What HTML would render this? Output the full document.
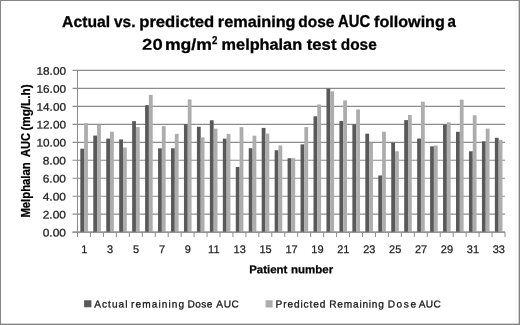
<!DOCTYPE html>
<html><head><meta charset="utf-8"><title>Chart</title>
<style>html,body{margin:0;padding:0;background:#fff}svg{display:block}text{font-family:"Liberation Sans",sans-serif}</style></head>
<body>
<svg width="520" height="325" viewBox="0 0 520 325">
<rect x="0" y="0" width="520" height="325" fill="#fff"/>
<rect x="0" y="0" width="520" height="1" fill="#868686"/>
<rect x="0" y="0" width="1" height="325" fill="#868686"/>
<rect x="518.6" y="0" width="1.4" height="325" fill="#868686"/>
<rect x="0" y="323.6" width="520" height="1.4" fill="#868686"/>
<rect x="515.5" y="1" width="1" height="322" fill="#f4f4f4"/>
<line x1="72.5" y1="232.15" x2="505.0" y2="232.15" stroke="#8c8c8c" stroke-width="1.15"/>
<line x1="72.5" y1="214.18" x2="505.0" y2="214.18" stroke="#8c8c8c" stroke-width="1.15"/>
<line x1="72.5" y1="196.21" x2="505.0" y2="196.21" stroke="#8c8c8c" stroke-width="1.15"/>
<line x1="72.5" y1="178.24" x2="505.0" y2="178.24" stroke="#8c8c8c" stroke-width="1.15"/>
<line x1="72.5" y1="160.27" x2="505.0" y2="160.27" stroke="#8c8c8c" stroke-width="1.15"/>
<line x1="72.5" y1="142.30" x2="505.0" y2="142.30" stroke="#8c8c8c" stroke-width="1.15"/>
<line x1="72.5" y1="124.33" x2="505.0" y2="124.33" stroke="#8c8c8c" stroke-width="1.15"/>
<line x1="72.5" y1="106.36" x2="505.0" y2="106.36" stroke="#8c8c8c" stroke-width="1.15"/>
<line x1="72.5" y1="88.39" x2="505.0" y2="88.39" stroke="#8c8c8c" stroke-width="1.15"/>
<line x1="72.5" y1="70.42" x2="505.0" y2="70.42" stroke="#8c8c8c" stroke-width="1.15"/>
<rect x="80.33" y="148.68" width="3.8" height="83.47" fill="#595959"/>
<rect x="84.13" y="122.98" width="3.8" height="109.17" fill="#ADADAD"/>
<rect x="93.28" y="135.56" width="3.8" height="96.59" fill="#595959"/>
<rect x="97.08" y="124.78" width="3.8" height="107.37" fill="#ADADAD"/>
<rect x="106.24" y="138.62" width="3.8" height="93.53" fill="#595959"/>
<rect x="110.04" y="131.70" width="3.8" height="100.45" fill="#ADADAD"/>
<rect x="119.19" y="139.42" width="3.8" height="92.73" fill="#595959"/>
<rect x="122.99" y="147.51" width="3.8" height="84.64" fill="#ADADAD"/>
<rect x="132.15" y="121.10" width="3.8" height="111.05" fill="#595959"/>
<rect x="135.95" y="127.03" width="3.8" height="105.12" fill="#ADADAD"/>
<rect x="145.10" y="105.19" width="3.8" height="126.96" fill="#595959"/>
<rect x="148.90" y="94.86" width="3.8" height="137.29" fill="#ADADAD"/>
<rect x="158.05" y="148.32" width="3.8" height="83.83" fill="#595959"/>
<rect x="161.85" y="126.13" width="3.8" height="106.02" fill="#ADADAD"/>
<rect x="171.01" y="148.32" width="3.8" height="83.83" fill="#595959"/>
<rect x="174.81" y="133.85" width="3.8" height="98.30" fill="#ADADAD"/>
<rect x="183.96" y="124.33" width="3.8" height="107.82" fill="#595959"/>
<rect x="187.76" y="99.44" width="3.8" height="132.71" fill="#ADADAD"/>
<rect x="196.92" y="126.76" width="3.8" height="105.39" fill="#595959"/>
<rect x="200.72" y="137.36" width="3.8" height="94.79" fill="#ADADAD"/>
<rect x="209.87" y="120.29" width="3.8" height="111.86" fill="#595959"/>
<rect x="213.67" y="128.64" width="3.8" height="103.51" fill="#ADADAD"/>
<rect x="222.83" y="138.62" width="3.8" height="93.53" fill="#595959"/>
<rect x="226.63" y="133.85" width="3.8" height="98.30" fill="#ADADAD"/>
<rect x="235.78" y="167.01" width="3.8" height="65.14" fill="#595959"/>
<rect x="239.58" y="127.12" width="3.8" height="105.03" fill="#ADADAD"/>
<rect x="248.74" y="148.23" width="3.8" height="83.92" fill="#595959"/>
<rect x="252.54" y="135.65" width="3.8" height="96.50" fill="#ADADAD"/>
<rect x="261.69" y="127.92" width="3.8" height="104.23" fill="#595959"/>
<rect x="265.49" y="133.58" width="3.8" height="98.57" fill="#ADADAD"/>
<rect x="274.65" y="150.21" width="3.8" height="81.94" fill="#595959"/>
<rect x="278.45" y="145.44" width="3.8" height="86.71" fill="#ADADAD"/>
<rect x="287.60" y="158.20" width="3.8" height="73.95" fill="#595959"/>
<rect x="291.40" y="158.20" width="3.8" height="73.95" fill="#ADADAD"/>
<rect x="300.55" y="144.37" width="3.8" height="87.78" fill="#595959"/>
<rect x="304.35" y="127.03" width="3.8" height="105.12" fill="#ADADAD"/>
<rect x="313.51" y="116.33" width="3.8" height="115.82" fill="#595959"/>
<rect x="317.31" y="104.47" width="3.8" height="127.68" fill="#ADADAD"/>
<rect x="326.46" y="88.66" width="3.8" height="143.49" fill="#595959"/>
<rect x="330.26" y="91.27" width="3.8" height="140.88" fill="#ADADAD"/>
<rect x="339.42" y="120.92" width="3.8" height="111.23" fill="#595959"/>
<rect x="343.22" y="100.43" width="3.8" height="131.72" fill="#ADADAD"/>
<rect x="352.37" y="124.33" width="3.8" height="107.82" fill="#595959"/>
<rect x="356.17" y="109.41" width="3.8" height="122.74" fill="#ADADAD"/>
<rect x="365.33" y="133.67" width="3.8" height="98.48" fill="#595959"/>
<rect x="369.13" y="142.75" width="3.8" height="89.40" fill="#ADADAD"/>
<rect x="378.28" y="175.45" width="3.8" height="56.70" fill="#595959"/>
<rect x="382.08" y="131.70" width="3.8" height="100.45" fill="#ADADAD"/>
<rect x="391.24" y="142.75" width="3.8" height="89.40" fill="#595959"/>
<rect x="395.04" y="151.28" width="3.8" height="80.87" fill="#ADADAD"/>
<rect x="404.19" y="120.11" width="3.8" height="112.04" fill="#595959"/>
<rect x="407.99" y="114.90" width="3.8" height="117.25" fill="#ADADAD"/>
<rect x="417.15" y="138.53" width="3.8" height="93.62" fill="#595959"/>
<rect x="420.95" y="101.69" width="3.8" height="130.46" fill="#ADADAD"/>
<rect x="430.10" y="146.34" width="3.8" height="85.81" fill="#595959"/>
<rect x="433.90" y="145.44" width="3.8" height="86.71" fill="#ADADAD"/>
<rect x="443.05" y="124.51" width="3.8" height="107.64" fill="#595959"/>
<rect x="446.85" y="122.26" width="3.8" height="109.89" fill="#ADADAD"/>
<rect x="456.01" y="131.79" width="3.8" height="100.36" fill="#595959"/>
<rect x="459.81" y="99.71" width="3.8" height="132.44" fill="#ADADAD"/>
<rect x="468.96" y="151.28" width="3.8" height="80.87" fill="#595959"/>
<rect x="472.76" y="115.26" width="3.8" height="116.89" fill="#ADADAD"/>
<rect x="481.92" y="141.31" width="3.8" height="90.84" fill="#595959"/>
<rect x="485.72" y="128.64" width="3.8" height="103.51" fill="#ADADAD"/>
<rect x="494.87" y="137.81" width="3.8" height="94.34" fill="#595959"/>
<rect x="498.67" y="139.78" width="3.8" height="92.37" fill="#ADADAD"/>
<line x1="77.5" y1="69.92" x2="77.5" y2="237.0" stroke="#8c8c8c" stroke-width="1"/>
<line x1="72.5" y1="232.15" x2="505.0" y2="232.15" stroke="#8c8c8c" stroke-width="1"/>
<line x1="90.45" y1="232.15" x2="90.45" y2="237.0" stroke="#8c8c8c" stroke-width="1"/>
<line x1="103.41" y1="232.15" x2="103.41" y2="237.0" stroke="#8c8c8c" stroke-width="1"/>
<line x1="116.36" y1="232.15" x2="116.36" y2="237.0" stroke="#8c8c8c" stroke-width="1"/>
<line x1="129.32" y1="232.15" x2="129.32" y2="237.0" stroke="#8c8c8c" stroke-width="1"/>
<line x1="142.27" y1="232.15" x2="142.27" y2="237.0" stroke="#8c8c8c" stroke-width="1"/>
<line x1="155.23" y1="232.15" x2="155.23" y2="237.0" stroke="#8c8c8c" stroke-width="1"/>
<line x1="168.18" y1="232.15" x2="168.18" y2="237.0" stroke="#8c8c8c" stroke-width="1"/>
<line x1="181.14" y1="232.15" x2="181.14" y2="237.0" stroke="#8c8c8c" stroke-width="1"/>
<line x1="194.09" y1="232.15" x2="194.09" y2="237.0" stroke="#8c8c8c" stroke-width="1"/>
<line x1="207.05" y1="232.15" x2="207.05" y2="237.0" stroke="#8c8c8c" stroke-width="1"/>
<line x1="220.00" y1="232.15" x2="220.00" y2="237.0" stroke="#8c8c8c" stroke-width="1"/>
<line x1="232.95" y1="232.15" x2="232.95" y2="237.0" stroke="#8c8c8c" stroke-width="1"/>
<line x1="245.91" y1="232.15" x2="245.91" y2="237.0" stroke="#8c8c8c" stroke-width="1"/>
<line x1="258.86" y1="232.15" x2="258.86" y2="237.0" stroke="#8c8c8c" stroke-width="1"/>
<line x1="271.82" y1="232.15" x2="271.82" y2="237.0" stroke="#8c8c8c" stroke-width="1"/>
<line x1="284.77" y1="232.15" x2="284.77" y2="237.0" stroke="#8c8c8c" stroke-width="1"/>
<line x1="297.73" y1="232.15" x2="297.73" y2="237.0" stroke="#8c8c8c" stroke-width="1"/>
<line x1="310.68" y1="232.15" x2="310.68" y2="237.0" stroke="#8c8c8c" stroke-width="1"/>
<line x1="323.64" y1="232.15" x2="323.64" y2="237.0" stroke="#8c8c8c" stroke-width="1"/>
<line x1="336.59" y1="232.15" x2="336.59" y2="237.0" stroke="#8c8c8c" stroke-width="1"/>
<line x1="349.55" y1="232.15" x2="349.55" y2="237.0" stroke="#8c8c8c" stroke-width="1"/>
<line x1="362.50" y1="232.15" x2="362.50" y2="237.0" stroke="#8c8c8c" stroke-width="1"/>
<line x1="375.45" y1="232.15" x2="375.45" y2="237.0" stroke="#8c8c8c" stroke-width="1"/>
<line x1="388.41" y1="232.15" x2="388.41" y2="237.0" stroke="#8c8c8c" stroke-width="1"/>
<line x1="401.36" y1="232.15" x2="401.36" y2="237.0" stroke="#8c8c8c" stroke-width="1"/>
<line x1="414.32" y1="232.15" x2="414.32" y2="237.0" stroke="#8c8c8c" stroke-width="1"/>
<line x1="427.27" y1="232.15" x2="427.27" y2="237.0" stroke="#8c8c8c" stroke-width="1"/>
<line x1="440.23" y1="232.15" x2="440.23" y2="237.0" stroke="#8c8c8c" stroke-width="1"/>
<line x1="453.18" y1="232.15" x2="453.18" y2="237.0" stroke="#8c8c8c" stroke-width="1"/>
<line x1="466.14" y1="232.15" x2="466.14" y2="237.0" stroke="#8c8c8c" stroke-width="1"/>
<line x1="479.09" y1="232.15" x2="479.09" y2="237.0" stroke="#8c8c8c" stroke-width="1"/>
<line x1="492.05" y1="232.15" x2="492.05" y2="237.0" stroke="#8c8c8c" stroke-width="1"/>
<line x1="505.00" y1="232.15" x2="505.00" y2="237.0" stroke="#8c8c8c" stroke-width="1"/>
<g transform="matrix(1 0.0005 0 1 0 0)">
<text x="66" y="236.41" font-size="11" text-anchor="end" fill="#222" stroke="#222" stroke-width="0.25" textLength="23.3" lengthAdjust="spacingAndGlyphs">0.00</text>
<text x="66" y="218.44" font-size="11" text-anchor="end" fill="#222" stroke="#222" stroke-width="0.25" textLength="23.3" lengthAdjust="spacingAndGlyphs">2.00</text>
<text x="66" y="200.47" font-size="11" text-anchor="end" fill="#222" stroke="#222" stroke-width="0.25" textLength="23.3" lengthAdjust="spacingAndGlyphs">4.00</text>
<text x="66" y="182.50" font-size="11" text-anchor="end" fill="#222" stroke="#222" stroke-width="0.25" textLength="23.3" lengthAdjust="spacingAndGlyphs">6.00</text>
<text x="66" y="164.53" font-size="11" text-anchor="end" fill="#222" stroke="#222" stroke-width="0.25" textLength="23.3" lengthAdjust="spacingAndGlyphs">8.00</text>
<text x="66" y="146.56" font-size="11" text-anchor="end" fill="#222" stroke="#222" stroke-width="0.25" textLength="29.5" lengthAdjust="spacingAndGlyphs">10.00</text>
<text x="66" y="128.59" font-size="11" text-anchor="end" fill="#222" stroke="#222" stroke-width="0.25" textLength="29.5" lengthAdjust="spacingAndGlyphs">12.00</text>
<text x="66" y="110.62" font-size="11" text-anchor="end" fill="#222" stroke="#222" stroke-width="0.25" textLength="29.5" lengthAdjust="spacingAndGlyphs">14.00</text>
<text x="66" y="92.65" font-size="11" text-anchor="end" fill="#222" stroke="#222" stroke-width="0.25" textLength="29.5" lengthAdjust="spacingAndGlyphs">16.00</text>
<text x="66" y="74.68" font-size="11" text-anchor="end" fill="#222" stroke="#222" stroke-width="0.25" textLength="29.5" lengthAdjust="spacingAndGlyphs">18.00</text>
<text x="84.28" y="252.86" font-size="11" text-anchor="middle" fill="#222" stroke="#222" stroke-width="0.25">1</text>
<text x="110.19" y="252.85" font-size="11" text-anchor="middle" fill="#222" stroke="#222" stroke-width="0.25">3</text>
<text x="136.10" y="252.83" font-size="11" text-anchor="middle" fill="#222" stroke="#222" stroke-width="0.25">5</text>
<text x="162.00" y="252.82" font-size="11" text-anchor="middle" fill="#222" stroke="#222" stroke-width="0.25">7</text>
<text x="187.91" y="252.81" font-size="11" text-anchor="middle" fill="#222" stroke="#222" stroke-width="0.25">9</text>
<text x="213.82" y="252.79" font-size="11" text-anchor="middle" fill="#222" stroke="#222" stroke-width="0.25">11</text>
<text x="239.73" y="252.78" font-size="11" text-anchor="middle" fill="#222" stroke="#222" stroke-width="0.25">13</text>
<text x="265.64" y="252.77" font-size="11" text-anchor="middle" fill="#222" stroke="#222" stroke-width="0.25">15</text>
<text x="291.55" y="252.75" font-size="11" text-anchor="middle" fill="#222" stroke="#222" stroke-width="0.25">17</text>
<text x="317.46" y="252.74" font-size="11" text-anchor="middle" fill="#222" stroke="#222" stroke-width="0.25">19</text>
<text x="343.37" y="252.73" font-size="11" text-anchor="middle" fill="#222" stroke="#222" stroke-width="0.25">21</text>
<text x="369.28" y="252.72" font-size="11" text-anchor="middle" fill="#222" stroke="#222" stroke-width="0.25">23</text>
<text x="395.19" y="252.70" font-size="11" text-anchor="middle" fill="#222" stroke="#222" stroke-width="0.25">25</text>
<text x="421.10" y="252.69" font-size="11" text-anchor="middle" fill="#222" stroke="#222" stroke-width="0.25">27</text>
<text x="447.00" y="252.68" font-size="11" text-anchor="middle" fill="#222" stroke="#222" stroke-width="0.25">29</text>
<text x="472.91" y="252.66" font-size="11" text-anchor="middle" fill="#222" stroke="#222" stroke-width="0.25">31</text>
<text x="498.82" y="252.65" font-size="11" text-anchor="middle" fill="#222" stroke="#222" stroke-width="0.25">33</text>
<text font-weight="bold" fill="#000" stroke="#000" stroke-width="0.3"><tspan x="62.14" y="26.957" font-size="15.6" textLength="47.96" lengthAdjust="spacingAndGlyphs">Actual</tspan> <tspan x="113.99" y="26.938" font-size="15.6" textLength="21.46" lengthAdjust="spacingAndGlyphs">vs.</tspan> <tspan x="139.22" y="26.912" font-size="15.6" textLength="74.92" lengthAdjust="spacingAndGlyphs">predicted</tspan> <tspan x="217.81" y="26.872" font-size="15.6" textLength="77.77" lengthAdjust="spacingAndGlyphs">remaining</tspan> <tspan x="298.32" y="26.842" font-size="15.6" textLength="36.01" lengthAdjust="spacingAndGlyphs">dose</tspan> <tspan x="338.00" y="26.823" font-size="15.6" textLength="32.13" lengthAdjust="spacingAndGlyphs">AUC</tspan> <tspan x="374.01" y="26.795" font-size="15.6" textLength="70.85" lengthAdjust="spacingAndGlyphs">following</tspan> <tspan x="447.53" y="26.774" font-size="15.6" textLength="8.37" lengthAdjust="spacingAndGlyphs">a</tspan></text>
<text font-weight="bold" fill="#000" stroke="#000" stroke-width="0.3"><tspan stroke-width="0.15" x="142.12" y="49.674" font-size="15.6" textLength="20.58" lengthAdjust="spacingAndGlyphs">20</tspan> <tspan x="164.92" y="49.656" font-size="15.6" textLength="46.92" lengthAdjust="spacingAndGlyphs">mg/m</tspan><tspan stroke-width="0.25" x="211.95" y="44.393" font-size="10.5" textLength="5.41" lengthAdjust="spacingAndGlyphs">2</tspan> <tspan x="221.61" y="49.619" font-size="15.6" textLength="80.51" lengthAdjust="spacingAndGlyphs">melphalan</tspan> <tspan x="306.75" y="49.589" font-size="15.6" textLength="29.72" lengthAdjust="spacingAndGlyphs">test</tspan> <tspan x="340.82" y="49.571" font-size="15.6" textLength="35.90" lengthAdjust="spacingAndGlyphs">dose</tspan></text>
<text font-weight="bold" fill="#000" stroke="#000" stroke-width="0.25"><tspan x="249.25" y="273.116" font-size="11.2" textLength="38.10" lengthAdjust="spacingAndGlyphs">Patient</tspan> <tspan x="291.14" y="273.094" font-size="11.2" textLength="42.02" lengthAdjust="spacingAndGlyphs">number</tspan></text>
</g>
<g transform="translate(29.7,216.75) rotate(-90) matrix(1 0.0005 0 1 0 0)">
<text font-weight="bold" fill="#000" stroke="#000" stroke-width="0.25"><tspan x="-0.86" y="-0.013" font-size="12.3" textLength="55.32" lengthAdjust="spacingAndGlyphs">Melphalan</tspan> <tspan x="59.85" y="-0.036" font-size="12.3" textLength="24.02" lengthAdjust="spacingAndGlyphs">AUC</tspan> <tspan x="86.17" y="-0.055" font-size="12.3" textLength="46.18" lengthAdjust="spacingAndGlyphs">(mg/L.h)</tspan></text>
</g>
<g transform="matrix(1 0.0005 0 1 0 0)">
<rect x="84.1" y="300.1" width="7.3" height="7.2" fill="#595959"/>
<text fill="#1a1a1a" stroke="#1a1a1a" stroke-width="0.3"><tspan x="94.33" y="307.545" font-size="10.1" textLength="33.15" lengthAdjust="spacing">Actual</tspan> <tspan x="131.04" y="307.521" font-size="10.1" textLength="53.15" lengthAdjust="spacing">remaining</tspan> <tspan x="187.45" y="307.5" font-size="10.1" textLength="24.90" lengthAdjust="spacing">Dose</tspan> <tspan x="216.34" y="307.486" font-size="10.1" textLength="22.49" lengthAdjust="spacing">AUC</tspan></text>
<rect x="265.5" y="300.2" width="7.1" height="7.1" fill="#ADADAD"/>
<text fill="#1a1a1a" stroke="#1a1a1a" stroke-width="0.3"><tspan x="275.55" y="307.45" font-size="10.1" textLength="49.85" lengthAdjust="spacing">Predicted</tspan> <tspan x="329.29" y="307.422" font-size="10.1" textLength="54.61" lengthAdjust="spacing">Remaining</tspan> <tspan x="387.75" y="307.399" font-size="10.1" textLength="28.27" lengthAdjust="spacing">Dose</tspan> <tspan x="418.74" y="307.385" font-size="10.1" textLength="22.02" lengthAdjust="spacing">AUC</tspan></text>
</g>
</svg>
</body></html>
